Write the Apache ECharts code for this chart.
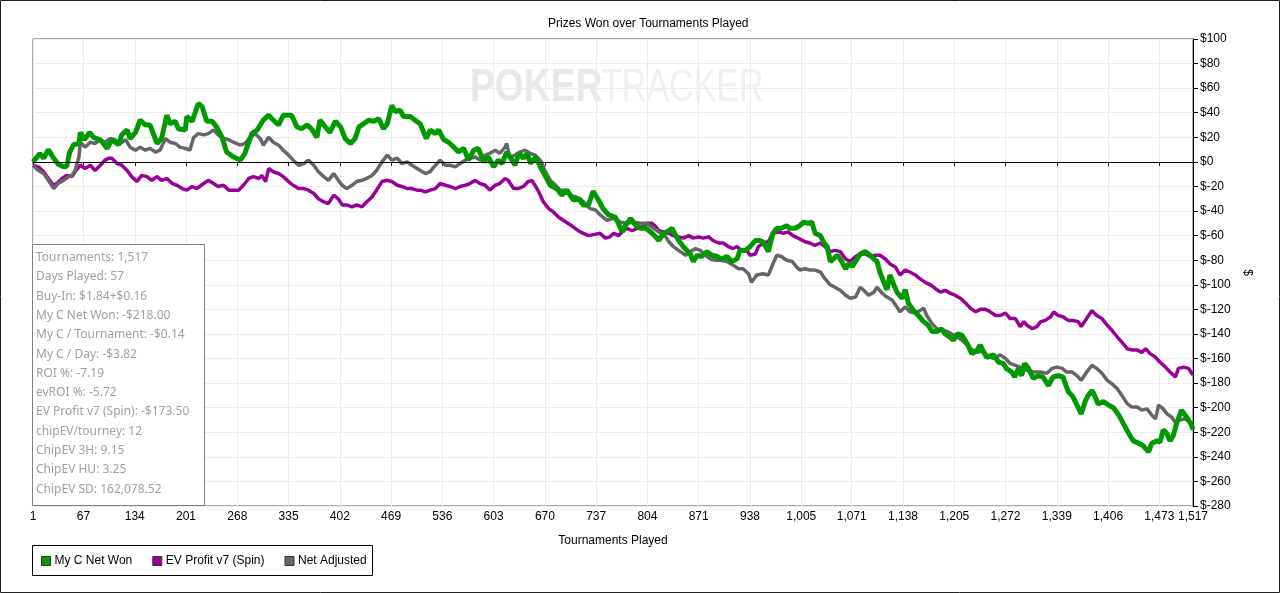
<!DOCTYPE html>
<html>
<head>
<meta charset="utf-8">
<title>Prizes Won over Tournaments Played</title>
<script src="https://cdn.jsdelivr.net/npm/echarts@6/dist/echarts.min.js"></script>
<style>
  html, body { margin: 0; padding: 0; background: #fff; }
  #chart { width: 1280px; height: 593px; }
</style>
</head>
<body>
<div id="chart"></div>
<script>
// tick positions on the x axis (tournament numbers)
const xTicks = [1, 67, 134, 201, 268, 335, 402, 469, 536, 603, 670, 737, 804, 871, 938,
                1005, 1071, 1138, 1205, 1272, 1339, 1406, 1473, 1517];

// [tournament, $]
const netWon = [[1,0],[10,6.8],[15,3],[21,10],[28,3],[34,-2],[41,-4],[45,-3.5],[49,8],[54,14],[61,15],[63,24],[68,18],[75,24],[80,20],[89,18],[98,11],[104,18],[113,14],[117,22],[124,26],[128,19],[135,24],[141,34],[148,30],[154,30],[163,15],[169,19],[176,38],[180,31],[187,33],[191,27],[200,26],[202,37],[209,33],[217,47.5],[222,45],[228,33],[235,33],[241,28.5],[248,20],[254,8],[263,4],[272,1.5],[278,7],[287,23],[294,26],[302,34],[309,38],[315,34],[322,30],[328,38],[339,38],[346,28.5],[352,27],[359,30],[365,27],[372,20],[376,34],[383,28.5],[389,24],[396,33],[403,28.5],[409,19],[416,15],[422,19],[427,28.5],[433,31],[440,34],[446,33],[453,35],[459,27],[464,31],[470,46],[474,41],[481,42],[485,37],[494,37],[500,34],[507,31],[515,19],[520,26],[527,23],[531,26],[538,18],[544,16],[551,12],[557,8],[564,11],[570,1.4],[577,9.5],[583,11],[590,0],[596,4],[603,-4],[609,1.4],[614,-1.3],[620,8],[627,1.4],[631,-2.7],[636,7],[642,3],[647,7],[651,-1.3],[658,4],[664,-4],[670,-11],[677,-19],[686,-22],[692,-27],[699,-23],[707,-31],[714,-30],[720,-35],[727,-35],[733,-24],[740,-31],[746,-38],[753,-43],[762,-45],[766,-50],[771,-57],[775,-52],[782,-46],[789,-52],[795,-54],[802,-54],[808,-57],[815,-61],[819,-64],[825,-58],[832,-56],[836,-54],[841,-60],[845,-64],[851,-69],[860,-75],[864,-81],[869,-76],[875,-77],[882,-73],[888,-76],[895,-77],[901,-79],[908,-77],[914,-81],[921,-79],[925,-72],[932,-72],[938,-69],[945,-64],[951,-64],[955,-65],[962,-73],[968,-58],[973,-54],[979,-54],[986,-52],[990,-54],[997,-54],[1003,-52],[1008,-49],[1014,-50],[1019,-49],[1023,-58],[1030,-60],[1034,-65],[1039,-69],[1043,-81],[1047,-79],[1052,-76],[1056,-79],[1063,-87],[1067,-83],[1072,-85],[1078,-79],[1082,-75],[1089,-73],[1095,-76],[1100,-79],[1104,-81],[1108,-90],[1113,-98],[1117,-104],[1121,-92],[1126,-100],[1130,-106],[1137,-111],[1141,-104],[1145,-115],[1152,-121],[1158,-125],[1165,-130],[1171,-133],[1176,-138],[1182,-138],[1189,-136],[1193,-140],[1198,-142],[1204,-145],[1209,-140],[1215,-141],[1222,-148],[1228,-156],[1235,-153],[1239,-149],[1247,-159],[1256,-157],[1263,-163],[1269,-164],[1273,-168],[1280,-171],[1284,-175],[1289,-168],[1293,-174],[1297,-164],[1302,-168],[1308,-176],[1315,-174],[1321,-175],[1328,-182],[1334,-175],[1341,-174],[1347,-175],[1354,-187],[1360,-191],[1367,-200],[1371,-205],[1376,-195],[1380,-190],[1385,-186],[1389,-191],[1393,-197],[1400,-195],[1407,-198],[1413,-200],[1420,-206],[1426,-213],[1433,-221],[1439,-227],[1446,-229],[1452,-231],[1459,-236],[1463,-229],[1470,-227],[1474,-228],[1478,-218],[1483,-221],[1487,-227],[1491,-223],[1496,-212],[1502,-202],[1509,-208],[1515,-214],[1517,-218]];

const evProfit = [[1,-2.7],[8,-4],[15,-8],[21,-13.5],[28,-19],[32,-17.6],[39,-13.5],[45,-11],[52,-12],[56,-8],[63,-2.7],[69,-5.4],[76,-2.7],[82,-7],[89,-2.7],[95,1.4],[100,3],[104,3],[111,-1.3],[117,-2.7],[124,-7],[130,-12],[137,-16],[143,-11],[150,-12],[156,-15],[163,-12],[169,-15],[176,-13.5],[183,-17.6],[189,-19],[196,-21.7],[202,-23],[209,-20],[215,-21.7],[224,-17.6],[230,-15],[237,-17.6],[243,-20],[250,-19],[257,-23],[261,-23],[270,-23],[276,-19],[283,-13.5],[289,-12],[296,-13.5],[300,-11],[305,-16],[309,-5.4],[315,-8],[322,-9.5],[328,-12],[335,-16],[341,-19],[348,-21.7],[355,-21.7],[361,-23],[368,-25.7],[374,-30],[381,-32.6],[387,-34],[394,-27],[400,-30],[405,-35],[411,-35],[418,-36.6],[424,-35],[431,-36.6],[437,-32.6],[444,-28.5],[450,-23],[457,-16],[464,-15],[470,-16],[477,-19],[483,-20],[490,-21.7],[496,-21.7],[503,-23],[507,-23],[514,-24.4],[520,-23],[527,-21.7],[533,-17.6],[540,-19],[546,-20],[553,-21.7],[559,-20],[566,-19],[572,-17.6],[579,-15],[585,-17.6],[592,-19],[598,-23],[605,-19],[611,-17.6],[618,-13.5],[622,-15],[629,-21.7],[635,-21.7],[642,-20],[648,-16],[653,-15],[657,-19],[662,-24.4],[668,-32.6],[675,-38],[681,-40.7],[688,-45],[694,-47.5],[705,-52],[716,-57],[727,-60],[735,-59],[742,-58],[749,-62],[755,-61],[760,-58],[766,-60],[771,-57],[777,-54],[784,-56],[791,-54],[797,-53],[803,-50],[810,-50],[814,-52],[819,-56],[825,-57],[832,-58],[838,-60],[845,-61],[851,-62],[858,-60],[864,-62],[871,-61],[877,-62],[884,-61],[890,-64],[897,-66],[903,-66],[910,-69],[916,-70.5],[921,-69],[927,-72],[934,-72],[938,-76],[945,-75],[949,-69],[955,-66],[962,-65],[968,-58],[975,-57],[981,-58],[988,-57],[994,-60],[1001,-62],[1010,-65],[1016,-66],[1023,-68],[1030,-66],[1036,-69],[1043,-73],[1049,-72],[1056,-73],[1063,-79],[1069,-81],[1076,-77],[1082,-75],[1089,-75],[1095,-77],[1102,-76],[1108,-76],[1115,-79],[1121,-83],[1128,-85.5],[1134,-92],[1141,-88],[1147,-89.6],[1154,-92],[1160,-95],[1167,-98],[1174,-100],[1180,-103],[1187,-106],[1193,-104.5],[1200,-107],[1206,-108.5],[1213,-111],[1220,-115],[1226,-119],[1233,-122],[1239,-120],[1246,-120],[1252,-122],[1259,-125],[1265,-125],[1272,-123],[1278,-127.5],[1285,-127.5],[1291,-134],[1296,-130],[1300,-133],[1307,-135.7],[1313,-134],[1318,-130],[1324,-129],[1331,-126],[1335,-122],[1341,-125],[1347,-126],[1354,-129],[1360,-129],[1367,-130],[1371,-134],[1378,-127.5],[1385,-121],[1391,-125],[1398,-127.5],[1405,-133],[1411,-137],[1418,-142.5],[1424,-146.6],[1431,-152],[1437,-153],[1444,-153],[1450,-155],[1455,-152],[1461,-156],[1468,-159],[1474,-163],[1481,-167],[1487,-171],[1494,-175],[1498,-168],[1505,-167],[1511,-168],[1517,-173.5]];

const netAdjusted = [[1,-2.7],[8,-7],[15,-9.5],[21,-15],[28,-21.7],[34,-17.6],[41,-15],[48,-12],[52,-11],[56,-7],[61,4],[63,16],[69,12],[76,16],[82,15],[89,18],[95,16],[102,19],[108,18],[115,15],[122,18],[128,12],[135,9.5],[141,12],[148,9.5],[154,11],[161,8],[167,9.5],[174,19],[180,16],[187,15],[193,12],[200,11],[206,9.5],[211,20],[217,23],[224,22],[230,23],[237,26],[243,22],[250,19],[257,18],[263,16],[272,13.6],[278,15],[285,20],[291,23],[298,19],[302,13.6],[309,20],[315,16],[322,13.6],[328,9.5],[335,5.5],[341,1.4],[348,-2.7],[355,-1.3],[361,1.4],[368,-2.7],[374,-8],[381,-12],[387,-15],[394,-9.5],[400,-15],[405,-19],[411,-21.7],[418,-19],[424,-16],[431,-15],[437,-13.5],[444,-11],[450,-7],[457,0],[464,5.5],[470,1.4],[477,3],[483,-1.3],[490,0],[496,-2.7],[503,-5.4],[507,-7],[514,-9.5],[520,-8],[527,-2.7],[533,1.4],[540,-2.7],[546,-2.7],[553,-4],[559,-1.3],[566,1.4],[572,3],[579,4],[585,1.4],[592,5.5],[598,7],[605,9.5],[611,7],[618,12],[620,15],[624,4],[631,5.5],[637,8],[644,9.5],[651,7],[657,5.5],[664,1.4],[670,-7],[677,-15],[684,-19],[690,-23],[697,-23],[703,-27],[710,-28.5],[716,-30],[723,-34],[729,-38],[736,-39],[742,-43],[751,-47.5],[760,-46],[769,-49],[777,-50],[786,-49],[795,-50],[803,-50],[812,-54],[821,-58],[828,-61],[832,-65],[838,-69],[847,-73],[854,-76],[860,-73],[867,-70.5],[873,-72],[880,-76],[886,-79],[893,-80],[899,-80],[908,-81],[916,-84],[923,-87],[929,-87],[936,-91],[940,-98],[947,-92],[955,-91],[962,-92],[968,-83],[973,-76],[979,-77],[986,-80],[993,-81],[999,-85.5],[1003,-88],[1010,-87],[1016,-88],[1023,-88],[1030,-89.6],[1036,-95],[1043,-100],[1049,-102],[1056,-104.5],[1063,-108.5],[1069,-111],[1076,-110],[1082,-102],[1087,-104.5],[1093,-108.5],[1100,-106],[1104,-102],[1111,-107],[1117,-110],[1124,-112.6],[1130,-118],[1134,-122],[1141,-118],[1147,-122],[1154,-123],[1160,-121],[1165,-119],[1169,-125],[1176,-131.6],[1182,-135.7],[1189,-137],[1196,-138],[1202,-140],[1209,-142.5],[1215,-145],[1222,-149],[1228,-153],[1235,-155],[1241,-154],[1247,-157],[1256,-160],[1265,-157],[1272,-160],[1278,-164],[1285,-165.5],[1291,-167],[1300,-169.6],[1308,-171],[1317,-171],[1326,-172],[1333,-168],[1339,-167],[1346,-168],[1352,-171],[1359,-171],[1365,-173.7],[1371,-177.8],[1378,-171],[1385,-165.5],[1391,-168],[1398,-172],[1405,-177.8],[1411,-180.5],[1418,-184.5],[1424,-190],[1431,-196.7],[1437,-199.5],[1444,-199.5],[1450,-202],[1457,-201],[1463,-206],[1468,-209],[1472,-198],[1478,-201],[1483,-205],[1489,-207.6],[1494,-212],[1500,-210],[1507,-209],[1513,-212],[1517,-213]];

const statLines = [
  'Tournaments: 1,517',
  'Days Played: 57',
  'Buy-In: $1.84+$0.16',
  'My C Net Won: -$218.00',
  'My C / Tournament: -$0.14',
  'My C / Day: -$3.82',
  'ROI %: -7.19',
  'evROI %: -5.72',
  'EV Profit v7 (Spin): -$173.50',
  'chipEV/tourney: 12',
  'ChipEV 3H: 9.15',
  'ChipEV HU: 3.25',
  'ChipEV SD: 162,078.52'
];

const FONT = 'Arial, "Liberation Sans", sans-serif';
const WM_FONT = '"Liberation Sans Narrow", "Arial Narrow", Arial, sans-serif';
const chart = echarts.init(document.getElementById('chart'), null, { renderer: 'canvas' });

chart.setOption({
  animation: false,
  backgroundColor: '#fff',
  title: {
    text: 'Prizes Won over Tournaments Played',
    left: 543,
    top: 13,
    textStyle: { fontSize: 12, fontWeight: 'normal', color: '#000', fontFamily: FONT }
  },
  legend: {
    data: ['My C Net Won', 'EV Profit v7 (Spin)', 'Net Adjusted'],
    left: 41,
    top: 555,
    icon: 'rect',
    itemWidth: 9,
    itemHeight: 9,
    itemGap: 20,
    padding: 0,
    itemStyle: { borderColor: '#333', borderWidth: 1 },
    textStyle: { fontSize: 12, color: '#000', fontFamily: FONT, padding: [0, 0, 0, -1] }
  },
  grid: {
    left: 33, right: 87, top: 39, bottom: 87,
    show: true, borderColor: '#555', borderWidth: 1
  },
  xAxis: {
    type: 'value',
    min: 1,
    max: 1517,
    name: 'Tournaments Played',
    nameLocation: 'middle',
    nameGap: 29,
    nameTextStyle: { fontSize: 12, color: '#000', fontFamily: FONT },
    axisLine: { show: true, lineStyle: { color: '#000', width: 1 } },
    axisTick: { show: true, customValues: xTicks, length: 4, lineStyle: { color: '#000' } },
    axisLabel: {
      customValues: xTicks,
      formatter: v => v.toLocaleString('en-US'),
      color: '#000', fontSize: 12, fontFamily: FONT, margin: 5
    },
    splitLine: { show: true, lineStyle: { color: '#ebebeb', width: 1 } }
  },
  yAxis: {
    type: 'value',
    position: 'right',
    min: -280,
    max: 100,
    interval: 20,
    name: '$',
    nameLocation: 'middle',
    nameGap: 43,
    nameRotate: -90,
    nameTextStyle: { fontSize: 12, color: '#000', fontFamily: FONT },
    axisLine: { show: true, lineStyle: { color: '#000', width: 1 } },
    axisTick: { show: true, length: 5, lineStyle: { color: '#000' } },
    axisLabel: {
      formatter: v => '$' + v,
      color: '#000', fontSize: 12, fontFamily: FONT, margin: 7
    },
    splitLine: { show: true, lineStyle: { color: '#ebebeb', width: 1 } }
  },
  series: [
    {
      name: 'EV Profit v7 (Spin)',
      type: 'line',
      data: evProfit,
      symbol: 'none',
      color: '#990099',
      lineStyle: { width: 3.5, color: '#990099' },
      markLine: {
        silent: true,
        symbol: ['none', 'none'],
        label: { show: false },
        lineStyle: { color: '#000', width: 1, type: 'solid' },
        data: [{ yAxis: 0 }]
      }
    },
    {
      name: 'Net Adjusted',
      type: 'line',
      data: netAdjusted,
      symbol: 'none',
      color: '#666666',
      lineStyle: { width: 3.5, color: '#666666' }
    },
    {
      name: 'My C Net Won',
      type: 'line',
      data: netWon,
      symbol: 'none',
      color: '#009900',
      lineStyle: { width: 5, color: '#009900' }
    }
  ],
  graphic: [
    // watermark, squeezed to the narrow logo lettering
    {
      type: 'group', x: 470, y: 65, scaleX: 0.81, z: 0, silent: true,
      children: [{
        type: 'text', x: 0, y: 0,
        style: { text: 'POKER', fill: '#e8e8e8', font: 'bold 46px ' + WM_FONT }
      }]
    },
    {
      type: 'group', x: 601, y: 65, scaleX: 0.74, z: 0, silent: true,
      children: [{
        type: 'text', x: 0, y: 0,
        style: { text: 'TRACKER', fill: '#f0f0f0', font: '46px ' + WM_FONT }
      }]
    },
    // stats box
    {
      type: 'rect', z: 50, silent: true,
      shape: { x: 32.5, y: 244.5, width: 172, height: 261 },
      style: { fill: '#fff', stroke: '#808080', lineWidth: 1 }
    },
    {
      type: 'text', z: 51, silent: true, left: 36, top: 248,
      style: {
        text: statLines.join('\n'),
        fill: '#a0a0a0',
        font: '12px "Segoe UI", "Noto Sans", sans-serif',
        lineHeight: 19.3
      }
    },
    // legend frame
    {
      type: 'rect', z: 50, silent: true,
      shape: { x: 32.5, y: 545.5, width: 340, height: 30 },
      style: { fill: 'none', stroke: '#000', lineWidth: 1 }
    },
    // outer frame
    {
      type: 'rect', z: 50, silent: true,
      shape: { x: 0.5, y: 0.5, width: 1279, height: 592 },
      style: { fill: 'none', stroke: '#222', lineWidth: 1 }
    }
  ]
});
</script>
</body>
</html>
